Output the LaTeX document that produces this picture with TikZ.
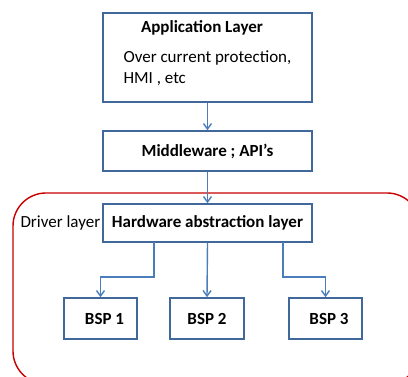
\documentclass[tikz,border=0pt]{standalone}
\usepackage{fontspec}
\setmainfont{Carlito}
\usetikzlibrary{arrows.meta}
\definecolor{boxline}{HTML}{41689A}
\definecolor{conn}{HTML}{4A7EBB}
\definecolor{redline}{HTML}{C80000}
\tikzset{
  layerbox/.style={draw=boxline, line width=1.6pt, fill=white, inner sep=0pt},
  conline/.style={draw=conn, line width=1.4pt, -{Straight Barb[length=5.5pt,width=8pt]}},
  title/.style={font=\fontsize{17}{19}\selectfont\bfseries},
  body/.style={font=\fontsize{17}{21}\selectfont},
}
\begin{document}
\begin{tikzpicture}[x=1pt,y=-1pt]
\useasboundingbox (0,0) rectangle (408,377);
% driver layer region
\draw[redline, line width=1.4pt, rounded corners=33pt] (13,193) rectangle (420,384);
% boxes
\node[layerbox, minimum width=209pt, minimum height=89pt] (app) at (207.5,57.5) {};
\node[title] (apptitle) at (202,28) {Application Layer};
\node[body, anchor=north west, align=left] (appbody) at (120,47) {Over current protection,\\HMI , etc};
\node[layerbox, minimum width=209pt, minimum height=40pt, title] (mid) at (207.5,151) {Middleware ; API’s};
\node[layerbox, minimum width=209pt, minimum height=38pt, title] (hal) at (207.5,223) {Hardware abstraction layer};
\node[body, anchor=west] (drv) at (17,223) {Driver layer};
\node[layerbox, minimum width=73pt, minimum height=41pt, title] (bsp1) at (100.5,318.5) {\hspace*{8pt}BSP 1};
\node[layerbox, minimum width=74pt, minimum height=41pt, title] (bsp2) at (207,318.5) {BSP 2};
\node[layerbox, minimum width=73pt, minimum height=41pt, title] (bsp3) at (325.5,318.5) {\hspace*{7pt}BSP 3};
% connectors
\draw[conline] (app.south) -- (mid.north);
\draw[conline] (mid.south) -- (hal.north);
\coordinate (l1) at (154,242);
\coordinate (r1) at (283,242);
\draw[conline] (l1) -- (154,277) -| (bsp1.north);
\draw[conline] (hal.south) -- (bsp2.north);
\draw[conline] (r1) -- (283,277) -| (bsp3.north);
\end{tikzpicture}
\end{document}
